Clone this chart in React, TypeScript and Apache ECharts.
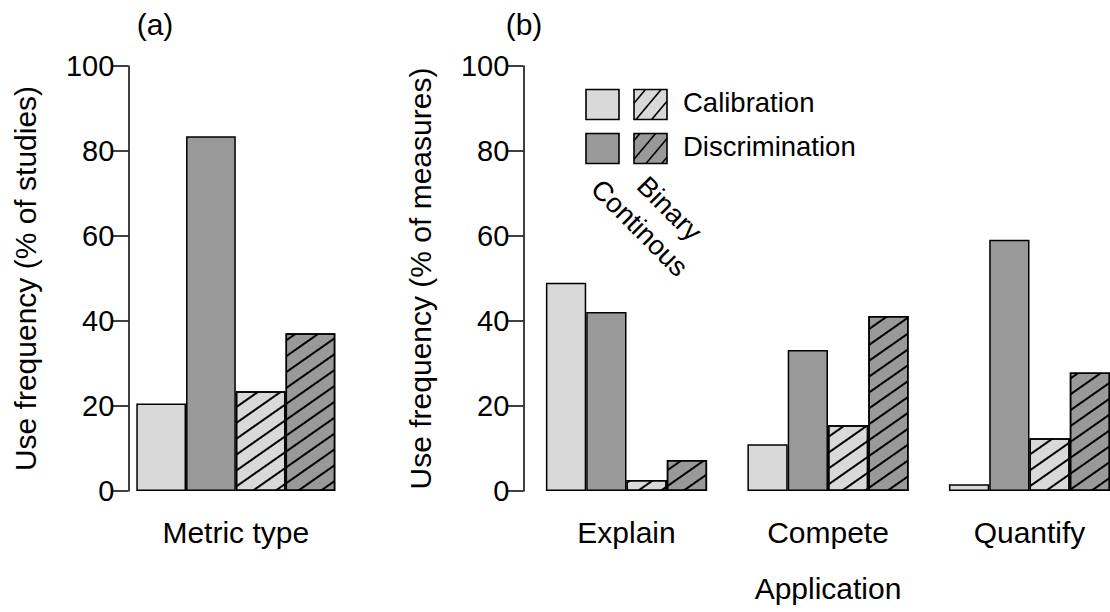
import React, { useEffect, useRef } from "react";
import * as echarts from "echarts";

// ---- data ----
const panelACategories = ["Metric type"];
const panelBCategories = ["Explain", "Compete", "Quantify"];
const seriesNames = ["Continuous calibration", "Continuous discrimination", "Binary calibration", "Binary discrimination"];
const panelAValues = [[20.6], [83.5], [23.5], [37.1]];
const calContinuous = [49.0, 11.0, 1.6];
const discContinuous = [42.1, 33.2, 59.1];
const calBinary = [2.6, 15.5, 12.4];
const discBinary = [7.3, 41.2, 27.9];
const yTicks = { min: 0, max: 100, interval: 20 };
const legendRows = ["Calibration", "Discrimination"];
const legendCols = ["Continous", "Binary"];

const LIGHT = "#d9d9d9";
const DARK = "#999999";
const FONT = "Liberation Sans, Arial, Helvetica, sans-serif";

const hatchDecal = {
  symbol: "rect",
  symbolSize: 1,
  dashArrayX: [1, 0],
  dashArrayY: [2, 11],
  rotation: (-35 * Math.PI) / 180,
  color: "#000",
};

function hatch(x: number, y: number, w: number, h: number, angleDeg: number, d: number) {
  const a = (angleDeg * Math.PI) / 180;
  const ux = Math.cos(a), uy = -Math.sin(a);
  const nx = Math.sin(a), ny = Math.cos(a);
  const cs = [[x, y], [x + w, y], [x, y + h], [x + w, y + h]].map(([px, py]) => px * nx + py * ny);
  const cmin = Math.min(...cs), cmax = Math.max(...cs);
  const segs: number[][] = [];
  for (let c = Math.ceil(cmin / d) * d; c <= cmax; c += d) {
    const ox = c * nx, oy = c * ny;
    let t0 = -Infinity, t1 = Infinity;
    let ta = (x - ox) / ux, tb = (x + w - ox) / ux;
    if (ta > tb) [ta, tb] = [tb, ta];
    t0 = Math.max(t0, ta); t1 = Math.min(t1, tb);
    ta = (y - oy) / uy; tb = (y + h - oy) / uy;
    if (ta > tb) [ta, tb] = [tb, ta];
    t0 = Math.max(t0, ta); t1 = Math.min(t1, tb);
    if (t1 - t0 > 0.5) segs.push([ox + t0 * ux, oy + t0 * uy, ox + t1 * ux, oy + t1 * uy]);
  }
  return segs;
}

function legendGraphics() {
  const els: any[] = [];
  const colX = [586, 634];
  const rowY = [89.5, 133.5];
  const fills = [LIGHT, DARK];
  rowY.forEach((ry, r) => {
    colX.forEach((cx, c) => {
      els.push({ type: "rect", shape: { x: cx, y: ry, width: 33, height: 30 }, style: { fill: fills[r], stroke: "none" } });
      if (c === 1) {
        hatch(cx, ry, 33, 30, 50, 12).forEach((s) =>
          els.push({ type: "line", shape: { x1: s[0], y1: s[1], x2: s[2], y2: s[3] }, style: { stroke: "#000", lineWidth: 1.6 } })
        );
      }
      els.push({ type: "rect", shape: { x: cx, y: ry, width: 33, height: 30 }, style: { fill: "none", stroke: "#000", lineWidth: 1.6 } });
    });
    els.push({
      type: "text", x: 683, y: ry + 13,
      style: { text: legendRows[r], fontSize: 27.5, fontFamily: FONT, fill: "#000", align: "left", verticalAlign: "middle" },
    });
  });
  const rotAnchors = [[596, 184], [642, 181]];
  legendCols.forEach((t, i) => {
    els.push({
      type: "text", x: rotAnchors[i][0], y: rotAnchors[i][1], rotation: -Math.PI / 4,
      style: { text: t, fontSize: 27.5, fontFamily: FONT, fill: "#000", align: "left", verticalAlign: "middle" },
    });
  });
  return els;
}

export default function App() {
  const ref = useRef<HTMLDivElement>(null);
  useEffect(() => {
    if (!ref.current) return;
    const chart = echarts.init(ref.current, undefined, { renderer: "svg" });
    const yAxisBase = (gridIndex: number, name: string, offset: number) => ({
      type: "value",
      gridIndex,
      min: yTicks.min,
      max: yTicks.max,
      interval: yTicks.interval,
      offset,
      name,
      nameLocation: "middle",
      nameGap: 88,
      nameRotate: 90,
      nameTextStyle: { fontSize: 30, fontFamily: FONT, color: "#000" },
      axisLine: { show: true, lineStyle: { color: "#000", width: 1.5 } },
      axisTick: { show: true, length: 17, lineStyle: { color: "#000", width: 1.5 } },
      axisLabel: { fontSize: 29, fontFamily: FONT, color: "#000", margin: 14 },
      splitLine: { show: false },
    });
    const xAxisBase = (gridIndex: number, data: string[]) => ({
      type: "category",
      gridIndex,
      data,
      axisLine: { show: false },
      axisTick: { show: false },
      axisLabel: { fontSize: 30, fontFamily: FONT, color: "#000", margin: 26 },
    });
    const barStyle = (fill: string) => ({ color: fill, borderColor: "#000", borderWidth: 1.5 });
    const fillsFor = [LIGHT, DARK, LIGHT, DARK];
    const hatched = [false, false, true, true];
    const bValues = [calContinuous, discContinuous, calBinary, discBinary];

    const series: any[] = [];
    seriesNames.forEach((n, i) => {
      series.push({
        type: "bar", name: n, xAxisIndex: 0, yAxisIndex: 0,
        data: panelAValues[i], barWidth: 49.75, barGap: "0%",
        itemStyle: { ...barStyle(fillsFor[i]), ...(hatched[i] ? { decal: hatchDecal } : {}) },
      });
    });
    seriesNames.forEach((n, i) => {
      series.push({
        type: "bar", name: n + " (b)", xAxisIndex: 1, yAxisIndex: 1,
        data: bValues[i], barWidth: 40.3, barGap: "0%",
        itemStyle: { ...barStyle(fillsFor[i]), ...(hatched[i] ? { decal: hatchDecal } : {}) },
      });
    });

    chart.setOption({
      animation: false,
      backgroundColor: "#fff",
      grid: [
        { left: 128.3, top: 66, width: 215, height: 425 },
        { left: 525.75, top: 66, width: 604.5, height: 425 },
      ],
      xAxis: [xAxisBase(0, panelACategories), xAxisBase(1, panelBCategories)],
      yAxis: [
        yAxisBase(0, "Use frequency (% of studies)", 0),
        yAxisBase(1, "Use frequency (% of measures)", 2.45),
      ],
      series,
      graphic: [
        { type: "text", x: 155, y: 24, style: { text: "(a)", fontSize: 30, fontFamily: FONT, fill: "#000", align: "center", verticalAlign: "middle" } },
        { type: "text", x: 524, y: 24, style: { text: "(b)", fontSize: 30, fontFamily: FONT, fill: "#000", align: "center", verticalAlign: "middle" } },
        { type: "text", x: 828, y: 588, style: { text: "Application", fontSize: 30, fontFamily: FONT, fill: "#000", align: "center", verticalAlign: "middle" } },
        ...legendGraphics(),
      ],
    });
    return () => chart.dispose();
  }, []);
  return (
    <div style={{ position: "absolute", left: 0, top: 0, width: 1110, height: 612, overflow: "hidden", background: "#fff" }}>
      <div ref={ref} style={{ position: "absolute", left: 0, top: 0, width: 1150, height: 612 }} />
    </div>
  );
}
